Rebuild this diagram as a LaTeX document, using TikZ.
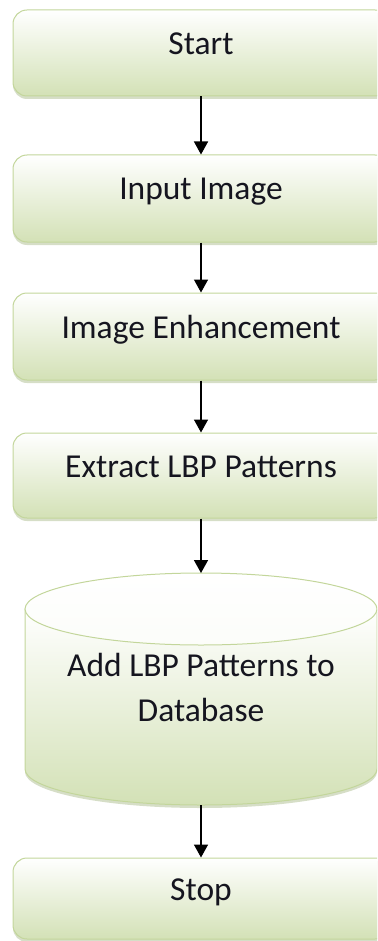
\documentclass[tikz,border=0pt]{standalone}
\usepackage{fontspec}
\setmainfont{Carlito}
\usetikzlibrary{arrows.meta,shadows}
\definecolor{gbot}{HTML}{D3E1B6}
\definecolor{gedge}{HTML}{C3D69B}
\definecolor{txt}{HTML}{15151F}
\definecolor{gshadow}{HTML}{98AC74}
\tikzset{
  proc/.style={rounded corners=14pt, draw=gedge, line width=1pt,
    top color=white, bottom color=gbot,
    drop shadow={opacity=0.4, shadow xshift=0pt, shadow yshift=-3pt, fill=gshadow},
    minimum width=376pt, inner sep=0pt,
    font=\fontsize{33.5}{40}\selectfont, text=txt,
    text height=0.75em, text depth=0.45em},
  flow/.style={line width=1.5pt, draw=black, -{Triangle[width=14pt,length=13pt]}}
}
\begin{document}
\begin{tikzpicture}[x=1pt,y=-1pt]
\useasboundingbox (0,0) rectangle (377,941);
\clip (0,0) rectangle (377,941);
\node[proc, minimum height=86pt] (start) at (201,53) {Start};
\node[proc, minimum height=87pt] (input) at (201,198.5) {Input Image};
\node[proc, minimum height=87pt] (enh) at (201,336.5) {Image Enhancement};
\node[proc, minimum height=85pt] (extract) at (201,475.5) {Extract LBP Patterns};
% cylinder
\path[fill=gshadow, opacity=0.4] (25,612) -- (25,772) arc[start angle=180,end angle=360,x radius=176pt,y radius=36pt] -- (377,612) -- cycle;
\path[top color=white, bottom color=gbot, draw=gedge, line width=1pt]
  (25,609) -- (25,769) arc[start angle=180,end angle=360,x radius=176pt,y radius=36pt] -- (377,609) -- cycle;
\path[top color=white, bottom color=white!92!gbot, draw=gedge, line width=1pt]
  (201,609) ellipse[x radius=176pt, y radius=36pt];
\coordinate (dbtop) at (201,573);
\coordinate (dbbot) at (201,805);
\node[font=\fontsize{33.5}{45}\selectfont, text=txt, align=center, inner sep=0pt] (db) at (201,687) {Add LBP Patterns to\\Database};
\node[proc, minimum height=81pt] (stop) at (201,898.5) {Stop};
\draw[flow] (start.south) -- (input.north);
\draw[flow] (input.south) -- (enh.north);
\draw[flow] (enh.south) -- (extract.north);
\draw[flow] (extract.south) -- (dbtop);
\draw[flow] (dbbot) -- (stop.north);
\end{tikzpicture}
\end{document}
